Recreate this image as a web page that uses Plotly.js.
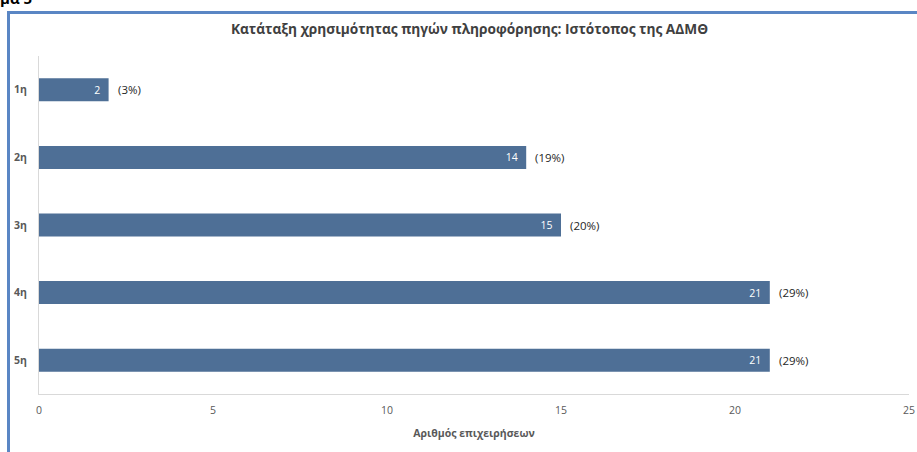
<!DOCTYPE html>
<html>
<head>
<meta charset="utf-8">
<script src="https://cdn.plot.ly/plotly-3.0.1.min.js"></script>
<style>
html,body{margin:0;padding:0;width:917px;height:452px;overflow:hidden;background:#fff;}
#frame{position:absolute;left:7px;top:11px;width:1000px;height:1000px;border:3px solid #5a86c4;box-sizing:border-box;}
#prev{position:absolute;left:0px;top:-12px;font-family:"Open Sans",sans-serif;font-weight:bold;font-size:15px;color:#000;}
#chart{position:absolute;left:0;top:0;width:917px;height:452px;}
</style>
</head>
<body>
<div id="prev">μα 5</div>
<div id="frame"></div>
<div id="chart"></div>
<script>
const categories = ['1η', '2η', '3η', '4η', '5η'];
const counts = [2, 14, 15, 21, 21];
const percentLabels = ['(3%)', '(19%)', '(20%)', '(29%)', '(29%)'];
const xTicks = [0, 5, 10, 15, 20, 25];
const chartTitle = 'Κατάταξη χρησιμότητας πηγών πληροφόρησης: Ιστότοπος της ΑΔΜΘ';
const xTitle = 'Αριθμός επιχειρήσεων';

const FONT = '"Open Sans", Lato, sans-serif';
const GREY = '#595959';

const trace = {
  type: 'bar',
  orientation: 'h',
  x: counts,
  y: categories,
  marker: {color: '#4e6f96'},
  width: 0.34,
  text: counts.map(v => String(v) + '\u00a0\u00a0'),
  textposition: 'inside',
  insidetextanchor: 'end',
  textfont: {family: FONT, size: 10.5, color: '#ffffff'},
  cliponaxis: false,
  hoverinfo: 'none'
};

const annotations = categories.map((c, i) => ({
  x: counts[i], y: c, xref: 'x', yref: 'y',
  text: percentLabels[i], showarrow: false,
  xanchor: 'left', xshift: 7,
  font: {family: FONT, size: 11.5, color: '#262626'}
}));

const layout = {
  width: 917, height: 452,
  margin: {l: 39, r: 8, t: 56, b: 58},
  paper_bgcolor: 'rgba(0,0,0,0)',
  plot_bgcolor: 'rgba(0,0,0,0)',
  showlegend: false,
  title: {
    text: chartTitle,
    font: {family: FONT, size: 13.7, color: '#404040', weight: 'bold'},
    x: 0.512, xanchor: 'center', y: 0.935, yanchor: 'middle'
  },
  xaxis: {
    range: [0, 25],
    tickvals: xTicks,
    ticktext: xTicks.map(String),
    showgrid: false,
    zeroline: false,
    showline: true, linecolor: '#d9d9d9', linewidth: 1,
    ticks: '',
    tickfont: {family: FONT, size: 10.5, color: GREY},
    ticklabelstandoff: 6,
    title: {text: xTitle, font: {family: FONT, size: 10.5, color: GREY, weight: 'bold'}, standoff: 14}
  },
  yaxis: {
    categoryorder: 'array',
    categoryarray: categories,
    autorange: 'reversed',
    showgrid: false,
    zeroline: false,
    showline: true, linecolor: '#d9d9d9', linewidth: 1,
    ticks: '',
    tickfont: {family: FONT, size: 10.5, color: GREY, weight: 'bold'},
    ticklabelstandoff: 9
  },
  annotations: annotations
};

Plotly.newPlot('chart', [trace], layout, {displayModeBar: false, staticPlot: true});
</script>
</body>
</html>
